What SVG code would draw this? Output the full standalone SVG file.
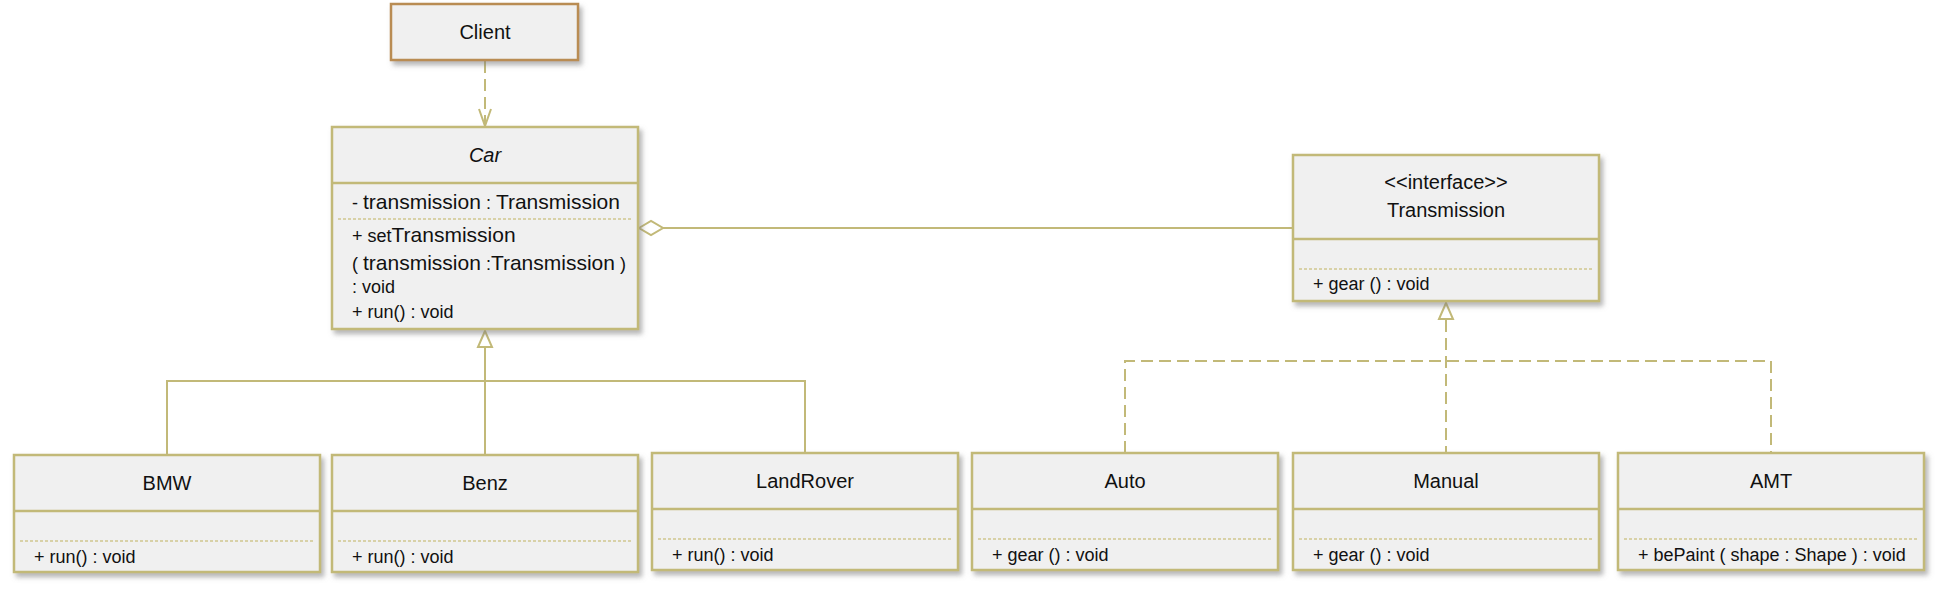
<svg xmlns="http://www.w3.org/2000/svg" width="1938" height="592" viewBox="0 0 1938 592">
<defs>
<filter id="sh" x="-5%" y="-5%" width="115%" height="125%">
<feDropShadow dx="3" dy="4" stdDeviation="2.5" flood-color="#7a7a7a" flood-opacity="0.55"/>
</filter>
<style>
.box{fill:#f0f0f0;stroke:#c2b978;stroke-width:2.5;filter:url(#sh)}
.client{fill:#f0f0f0;stroke:#b98c52;stroke-width:2.5;filter:url(#sh)}
.div{stroke:#c2b978;stroke-width:2.5;fill:none}
.dot{stroke:#cfc68e;stroke-width:1.5;stroke-dasharray:3 2;fill:none}
.ln{stroke:#c2b978;stroke-width:2;fill:none}
.dl{stroke:#c2b978;stroke-width:2;fill:none;stroke-dasharray:12 6}
.hd{stroke:#c2b978;stroke-width:2;fill:#ffffff}
text{font-family:"Liberation Sans",Arial,sans-serif;fill:#111111}
.t{font-size:20px;text-anchor:middle}
.m{font-size:18px}
.big{font-size:21px}
</style>
</defs>

<g id="connectors">
<line class="dl" x1="485" y1="61" x2="485" y2="125"/>
<polyline class="ln" points="479,109 485,126 491,109"/>
<line class="ln" x1="663" y1="228" x2="1293" y2="228"/>
<polygon class="hd" points="639,228 651,221 663,228 651,235"/>
<polyline class="ln" points="167,455 167,381 805,381 805,453"/>
<line class="ln" x1="485" y1="347" x2="485" y2="455"/>
<polygon class="hd" points="485,331 478,347 492,347"/>
<polyline class="dl" points="1125,453 1125,361 1771,361 1771,453"/>
<line class="dl" x1="1446" y1="320" x2="1446" y2="453"/>
<polygon class="hd" points="1446,303 1439,319 1453,319"/>
</g>

<g id="client">
<rect class="client" x="391" y="4" width="187" height="56"/>
<text class="t" x="485" y="39">Client</text>
</g>

<g id="car">
<rect class="box" x="332" y="127" width="306" height="202"/>
<line class="div" x1="332" y1="183" x2="638" y2="183"/>
<line class="dot" x1="338" y1="219" x2="632" y2="219"/>
<text class="t" x="485" y="162" font-style="italic">Car</text>
<text class="m" x="352" y="209">- <tspan class="big">transmission</tspan> : <tspan class="big">Transmission</tspan></text>
<text class="m" x="352" y="242">+ set<tspan class="big">Transmission</tspan></text>
<text class="m" x="352" y="270">( <tspan class="big">transmission</tspan> :<tspan class="big">Transmission</tspan> )</text>
<text class="m" x="352" y="293">: void</text>
<text class="m" x="352" y="318">+ run() : void</text>
</g>

<g id="transmission">
<rect class="box" x="1293" y="155" width="306" height="146"/>
<line class="div" x1="1293" y1="239" x2="1599" y2="239"/>
<line class="dot" x1="1299" y1="269" x2="1593" y2="269"/>
<text class="t" x="1446" y="189">&lt;&lt;interface&gt;&gt;</text>
<text class="t" x="1446" y="217">Transmission</text>
<text class="m" x="1313" y="290">+ gear () : void</text>
</g>

<g id="bmw">
<rect class="box" x="14" y="455" width="306" height="117"/>
<line class="div" x1="14" y1="511" x2="320" y2="511"/>
<line class="dot" x1="20" y1="541" x2="314" y2="541"/>
<text class="t" x="167" y="490">BMW</text>
<text class="m" x="34" y="563">+ run() : void</text>
</g>

<g id="benz">
<rect class="box" x="332" y="455" width="306" height="117"/>
<line class="div" x1="332" y1="511" x2="638" y2="511"/>
<line class="dot" x1="338" y1="541" x2="632" y2="541"/>
<text class="t" x="485" y="490">Benz</text>
<text class="m" x="352" y="563">+ run() : void</text>
</g>

<g id="landrover">
<rect class="box" x="652" y="453" width="306" height="117"/>
<line class="div" x1="652" y1="509" x2="958" y2="509"/>
<line class="dot" x1="658" y1="539" x2="952" y2="539"/>
<text class="t" x="805" y="488">LandRover</text>
<text class="m" x="672" y="561">+ run() : void</text>
</g>

<g id="auto">
<rect class="box" x="972" y="453" width="306" height="117"/>
<line class="div" x1="972" y1="509" x2="1278" y2="509"/>
<line class="dot" x1="978" y1="539" x2="1272" y2="539"/>
<text class="t" x="1125" y="488">Auto</text>
<text class="m" x="992" y="561">+ gear () : void</text>
</g>

<g id="manual">
<rect class="box" x="1293" y="453" width="306" height="117"/>
<line class="div" x1="1293" y1="509" x2="1599" y2="509"/>
<line class="dot" x1="1299" y1="539" x2="1593" y2="539"/>
<text class="t" x="1446" y="488">Manual</text>
<text class="m" x="1313" y="561">+ gear () : void</text>
</g>

<g id="amt">
<rect class="box" x="1618" y="453" width="306" height="117"/>
<line class="div" x1="1618" y1="509" x2="1924" y2="509"/>
<line class="dot" x1="1624" y1="539" x2="1918" y2="539"/>
<text class="t" x="1771" y="488">AMT</text>
<text class="m" x="1638" y="561">+ bePaint ( shape : Shape ) : void</text>
</g>
</svg>
